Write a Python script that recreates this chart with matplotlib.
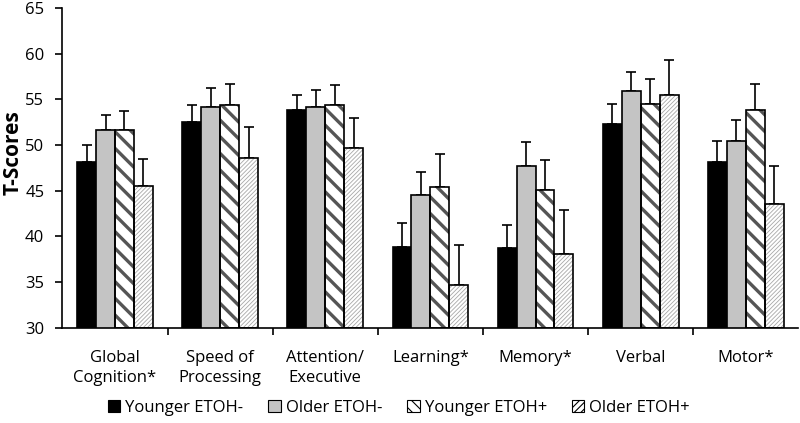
import numpy as np
import matplotlib.pyplot as plt
from matplotlib.patches import Patch

plt.rcParams['font.family'] = ['Open Sans', 'DejaVu Sans']

categories = ['Global\nCognition*', 'Speed of\nProcessing', 'Attention/\nExecutive',
              'Learning*', 'Memory*', 'Verbal', 'Motor*']
groups = ['Younger ETOH-', 'Older ETOH-', 'Younger ETOH+', 'Older ETOH+']

young_neg = [48.2, 52.5, 53.8, 38.9, 38.7, 52.3, 48.2]
old_neg = [51.6, 54.2, 54.2, 44.5, 47.7, 55.9, 50.4]
young_pos = [51.6, 54.4, 54.4, 45.4, 45.1, 54.5, 53.8]
old_pos = [45.5, 48.6, 49.7, 34.7, 38.1, 55.5, 43.6]

young_neg_err = [1.8, 1.9, 1.7, 2.6, 2.6, 2.2, 2.2]
old_neg_err = [1.7, 2.0, 1.8, 2.6, 2.6, 2.1, 2.3]
young_pos_err = [2.1, 2.3, 2.2, 3.6, 3.3, 2.7, 2.9]
old_pos_err = [3.0, 3.4, 3.3, 4.4, 4.8, 3.8, 4.1]

values = [young_neg, old_neg, young_pos, old_pos]
errors = [young_neg_err, old_neg_err, young_pos_err, old_pos_err]

# fill, hatch, hatch colour, hatch width
styles = [
    ('black', '', 'black', 1.0),
    ('#c4c4c4', '', 'black', 1.0),
    ('white', '\\\\', '#555555', 2.4),
    ('white', '////////', '#a8a8a8', 0.6),
]

fig = plt.figure(figsize=(8, 4.23), dpi=100)
ax = fig.add_axes([0.078, 0.225, 0.92, 0.756])

x = np.arange(len(categories))
w = 0.18
for i, (vals, errs) in enumerate(zip(values, errors)):
    fill, hatch, hcol, hlw = styles[i]
    pos = x + (i - 1.5) * w
    if hatch:
        plt.rcParams['hatch.linewidth'] = hlw
        ax.bar(pos, np.array(vals) - 30, w, bottom=30, color=fill,
               edgecolor=hcol, hatch=hatch, linewidth=0, zorder=2)
    ax.bar(pos, np.array(vals) - 30, w, bottom=30,
           color=fill if not hatch else 'none',
           edgecolor='black', linewidth=1.2, zorder=3)
    ax.errorbar(pos, vals, yerr=[np.zeros(len(errs)), errs], fmt='none',
                ecolor='black', elinewidth=1.2, capsize=3.5, capthick=1.2, zorder=1)

ax.set_ylim(30, 65)
ax.set_xlim(-0.5, len(categories) - 0.5)
ax.set_yticks(range(30, 66, 5))
ax.set_xticks(x)
ax.set_xticklabels(categories, fontsize=12, linespacing=1.3)
ax.set_xticks(np.arange(0.5, len(categories) - 0.5, 1), minor=True)
ax.tick_params(axis='x', which='major', length=0, pad=16)
ax.tick_params(axis='x', which='minor', length=5, width=1.2)
ax.tick_params(axis='y', labelsize=12, length=5, width=1.2, pad=8)
ax.set_ylabel('T-Scores', fontsize=15, fontweight='bold')
ax.yaxis.set_label_coords(-0.053, 0.547)
for s in ['top', 'right']:
    ax.spines[s].set_visible(False)
for s in ['left', 'bottom']:
    ax.spines[s].set_linewidth(1.2)

handles = []
for i, g in enumerate(groups):
    fill, hatch, hcol, hlw = styles[i]
    plt.rcParams['hatch.linewidth'] = 0.8
    lh = {'\\\\': '\\\\\\', '////////': '/////'}.get(hatch, hatch)
    handles.append(Patch(facecolor=fill, edgecolor='black', hatch=lh,
                         linewidth=0.8, label=g))
fig.legend(handles=handles, loc='lower left', bbox_to_anchor=(0.116, -0.018), ncol=4,
           frameon=False, fontsize=12, handlelength=0.75, handleheight=0.75,
           handletextpad=0.3, columnspacing=1.5)

fig.savefig('out.png', dpi=100)
